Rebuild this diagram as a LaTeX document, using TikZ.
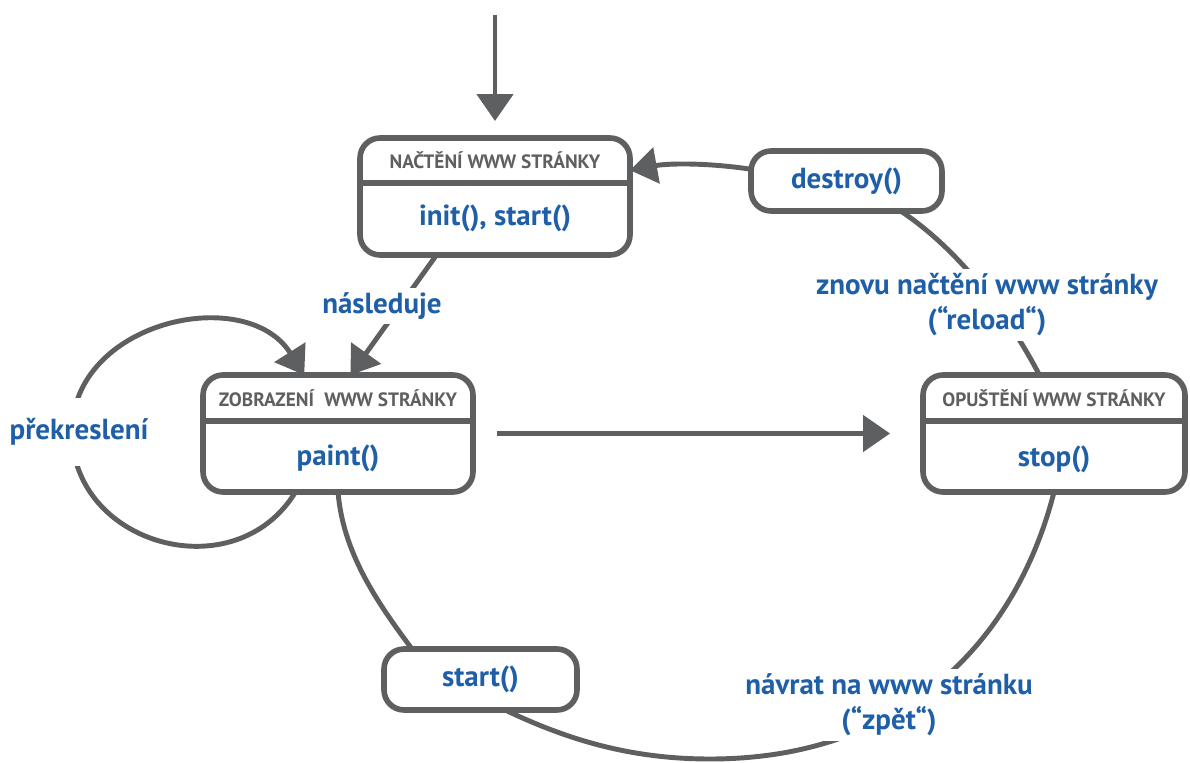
\documentclass[tikz,border=0pt]{standalone}
\usepackage{fontspec}
\setmainfont{PT Sans}
\usepackage{xcolor}
\usepackage{tikz}
\usetikzlibrary{arrows.meta}

\definecolor{appletgray}{HTML}{5E5F61}
\definecolor{appletblue}{HTML}{1F5FA7}

\begin{document}
\begin{tikzpicture}[x=0.02cm, y=-0.02cm,
  statebox/.style={draw=appletgray, line width=3.2pt, rounded corners=0.4cm, fill=white, outer sep=0pt, inner sep=0pt, minimum width=5.4cm, minimum height=2.34cm},
  callbox/.style={draw=appletgray, line width=3.2pt, rounded corners=0.4cm, fill=white, outer sep=0pt, inner sep=0pt, minimum width=3.82cm, minimum height=1.2cm, text=appletblue, font=\bfseries\fontsize{16.5}{19}\selectfont},
  head/.style={text=appletgray, font=\bfseries\fontsize{11}{13}\selectfont},
  body/.style={text=appletblue, font=\bfseries\fontsize{16.5}{19}\selectfont},
  lbl/.style={fill=white, text=appletblue, align=center, inner sep=0.1cm, font=\bfseries\fontsize{16.5}{20}\selectfont},
  conn/.style={draw=appletgray, line width=2.8pt},
  arr/.style={conn, -{Triangle[length=0.54cm,width=0.72cm]}}]
\useasboundingbox (0,0) rectangle (1190,763);

% stavy
\node[statebox] (nacteni) at (495,196.5) {};
\node[statebox] (zobrazeni) at (338,433.5) {};
\node[statebox, minimum width=5.24cm] (opusteni) at (1054,433.5) {};
\node[callbox] (destroycall) at (846.5,181) {destroy()};
\node[callbox, minimum width=3.86cm, minimum height=1.22cm] (startcall) at (480.5,679.5) {start()};
\coordinate (vstup) at (495,15);

\draw[conn, line width=3.2pt] ([yshift=-0.9cm]nacteni.north west) -- ([yshift=-0.9cm]nacteni.north east);
\draw[conn, line width=3.2pt] ([yshift=-0.92cm]zobrazeni.north west) -- ([yshift=-0.92cm]zobrazeni.north east);
\draw[conn, line width=3.2pt] ([yshift=-0.92cm]opusteni.north west) -- ([yshift=-0.92cm]opusteni.north east);

\node[head] (nacteni-head) at ([yshift=-0.45cm]nacteni.north) {NAČTĚNÍ WWW STRÁNKY};
\node[head] (zobrazeni-head) at ([yshift=-0.46cm]zobrazeni.north) {ZOBRAZENÍ\hspace{3pt} WWW STRÁNKY};
\node[head] (opusteni-head) at ([yshift=-0.46cm]opusteni.north) {OPUŠTĚNÍ WWW STRÁNKY};
\node[body] (nacteni-body) at ([yshift=0.74cm]nacteni.south) {init(), start()};
\node[body] (zobrazeni-body) at ([yshift=0.68cm]zobrazeni.south) {paint()};
\node[body] (opusteni-body) at ([yshift=0.66cm]opusteni.south) {stop()};

% prechody
\path (vstup) edge[arr, shorten >=0.34cm] (nacteni.north)
      (nacteni.225) edge[arr] (zobrazeni.78)
      (zobrazeni) edge[arr, shorten <=0.48cm, shorten >=0.66cm] (opusteni);
\draw[arr] (zobrazeni.234) .. controls (235,591) and (72,545) .. (72,432)
           .. controls (72,321) and (246,283) .. (zobrazeni.120);
\draw[conn] (zobrazeni.south) .. controls (343,552) and (376,601) .. (startcall.156);
\draw[conn] (startcall.-51) .. controls (572,742) and (635,759) .. (710,759)
            .. controls (910,759) and (1018,634) .. (opusteni.south);
\draw[conn] (opusteni.104) .. controls (1007,313) and (958,249) .. (destroycall.-29);
\draw[arr] (destroycall.173) .. controls (710,163) and (670,163) .. (nacteni.11);

% popisky
\node[lbl] (nasleduje) at (382,306) {následuje};
\node[lbl, inner ysep=0.4cm] (prekresleni) at (79,432) {překreslení};
\node[lbl] (reload) at (987,305) {znovu načtění www stránky\\(“reload“)};
\node[lbl] (zpet) at (889,705) {návrat na www stránku\\(“zpět“)};
\end{tikzpicture}
\end{document}
